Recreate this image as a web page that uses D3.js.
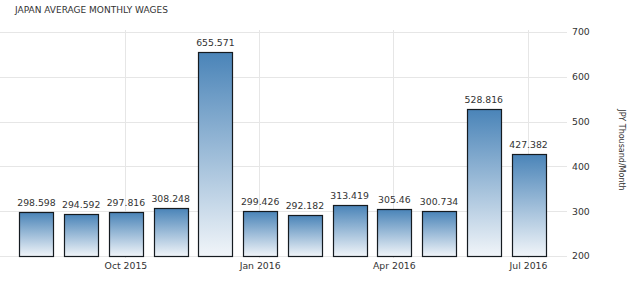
<!DOCTYPE html>
<html><head><meta charset="utf-8">
<script src="https://cdn.jsdelivr.net/npm/d3@7/dist/d3.min.js"></script>
<style>
html,body{margin:0;padding:0;background:#fff;}
text{font-family:"DejaVu Sans",Verdana,sans-serif;}
</style></head>
<body><svg id="c" width="640" height="282"></svg>
<script>
const months = ["Aug 2015","Sep 2015","Oct 2015","Nov 2015","Dec 2015","Jan 2016","Feb 2016","Mar 2016","Apr 2016","May 2016","Jun 2016","Jul 2016"];
const wages = [298.598,294.592,297.816,308.248,655.571,299.426,292.182,313.419,305.46,300.734,528.816,427.382];
const valueLabels = ["298.598","294.592","297.816","308.248","655.571","299.426","292.182","313.419","305.46","300.734","528.816","427.382"];
const xTickLabels = ["Oct 2015","Jan 2016","Apr 2016","Jul 2016"];
const yTicks = [200,300,400,500,600,700];
const title = "JAPAN AVERAGE MONTHLY WAGES";
const yTitle = "JPY Thousand/Month";

const svg = d3.select("#c");
const x = d3.scaleBand().domain(months).range([14.1, 550.9]).paddingInner(0.24).paddingOuter(0.12);
const y = d3.scaleLinear().domain([200,700]).range([256,32]);

const defs = svg.append("defs");
const g = defs.append("linearGradient").attr("id","bg").attr("x1",0).attr("y1",0).attr("x2",0).attr("y2",1);
g.append("stop").attr("offset","0%").attr("stop-color","#4a84b8");
g.append("stop").attr("offset","100%").attr("stop-color","#f1f5f9");

svg.append("text").attr("x",15).attr("y",12.5).attr("font-size",9).attr("fill","#333").text(title);

// horizontal grid
svg.append("g").selectAll("line").data(yTicks).join("line")
  .attr("x1",0).attr("x2",567).attr("y1",d=>Math.round(y(d))+0.5).attr("y2",d=>Math.round(y(d))+0.5)
  .attr("stroke","#e6e6e6").attr("stroke-width",1);
// vertical grid
svg.append("g").selectAll("line").data(xTickLabels).join("line")
  .attr("x1",d=>Math.round(x(d)+x.bandwidth()/2)-0.5).attr("x2",d=>Math.round(x(d)+x.bandwidth()/2)-0.5)
  .attr("y1",30).attr("y2",258)
  .attr("stroke","#e6e6e6").attr("stroke-width",1);

// y axis labels
const ya = d3.axisRight(y).tickValues(yTicks).tickSize(0).tickPadding(0);
const yg = svg.append("g").attr("transform","translate(572,0)").call(ya);
yg.select(".domain").remove();
yg.selectAll("text").attr("font-size",9.3).attr("fill","#333").attr("font-family","DejaVu Sans");

// x axis labels
const xa = d3.axisBottom(x).tickValues(xTickLabels).tickSize(0).tickPadding(0);
const xg = svg.append("g").attr("transform","translate(0,262)").call(xa);
xg.select(".domain").remove();
xg.selectAll("text").attr("font-size",9.3).attr("fill","#333").attr("font-family","DejaVu Sans");

// bars
svg.append("g").selectAll("rect").data(wages).join("rect")
  .attr("x",(d,i)=>Math.round(x(months[i]))+0.5)
  .attr("width",Math.round(x.bandwidth()))
  .attr("y",d=>Math.round(y(d))+0.5)
  .attr("height",d=>Math.round(y(200))-Math.round(y(d)))
  .attr("fill","url(#bg)").attr("stroke","#151b20").attr("stroke-width",1.2);

// value labels
svg.append("g").selectAll("text").data(wages).join("text")
  .attr("x",(d,i)=>x(months[i])+x.bandwidth()/2)
  .attr("y",d=>y(d)-6)
  .attr("text-anchor","middle").attr("font-size",9.3).attr("fill","#333")
  .text((d,i)=>valueLabels[i]);

// y title
svg.append("text").attr("transform","translate(619,150) rotate(90)")
  .attr("text-anchor","middle").attr("font-size",8).attr("fill","#333").text(yTitle);
</script></body></html>
